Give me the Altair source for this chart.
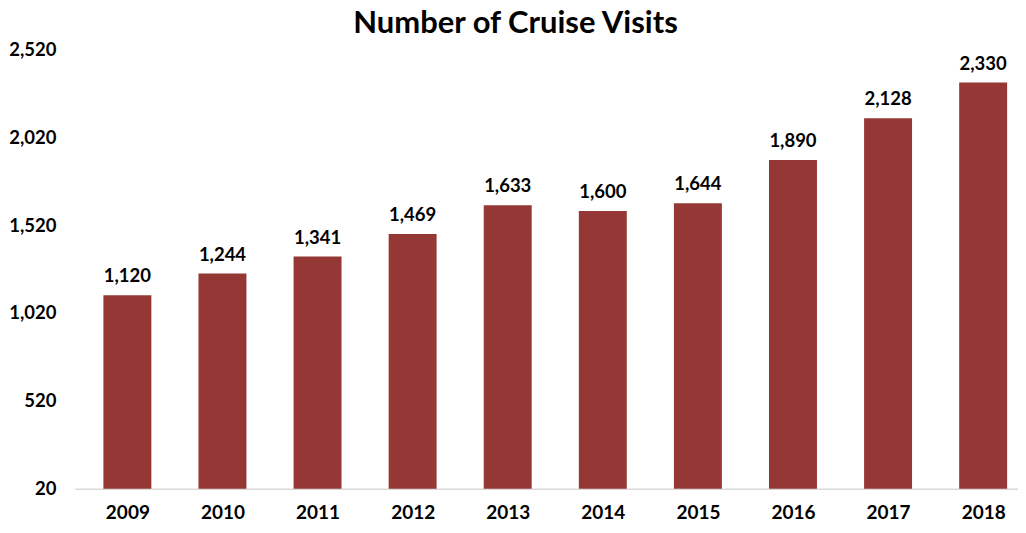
import altair as alt
import pandas as pd

years = [2009, 2010, 2011, 2012, 2013, 2014, 2015, 2016, 2017, 2018]
visits = [1120, 1244, 1341, 1469, 1633, 1600, 1644, 1890, 2128, 2330]
y_ticks = [20, 520, 1020, 1520, 2020, 2520]

df = pd.DataFrame({"year": years, "visits": visits})

FONT = "Lato"
W = 944
H = 440
STEP = 96.2
x_lo = 2009 - 48 / STEP
x_scale = alt.Scale(domain=[x_lo, x_lo + W / STEP], nice=False, zero=False)
y_scale = alt.Scale(domain=[20, 2520], nice=False, zero=False)

base = alt.Chart(df)

bars = base.mark_bar(color="#953735", size=48).encode(
    x=alt.X("year:Q", scale=x_scale,
            axis=alt.Axis(title=None, domain=True, domainColor="#d9d9d9", domainWidth=1.5,
                          ticks=False, grid=False, values=years, format="d",
                          labelFlush=False, labelAngle=0,
                          labelFont=FONT, labelFontSize=19, labelFontWeight="bold",
                          labelColor="#000000", labelPadding=15)),
    y=alt.Y("visits:Q", scale=y_scale,
            axis=alt.Axis(title=None, domain=False, ticks=False, grid=False,
                          values=y_ticks, format=",d", labelFont=FONT, labelFontSize=18.5,
                          labelFontWeight="bold", labelColor="#000000", labelPadding=19)),
    y2=alt.datum(20),
)

labels = base.mark_text(font=FONT, fontSize=18.5, fontWeight="bold", color="#000000",
                        baseline="alphabetic", dy=-13).encode(
    x=alt.X("year:Q", scale=x_scale),
    y=alt.Y("visits:Q", scale=y_scale),
    text=alt.Text("visits:Q", format=",d"),
)

chart = alt.layer(bars, labels).properties(
    width=W, height=H,
    padding={"left": 0, "top": 0, "right": 0, "bottom": 0},
    title=alt.Title("Number of Cruise Visits", font=FONT, fontSize=31, fontWeight="bold",
                    color="#000000", anchor="middle", dx=-31, offset=0),
).configure_view(stroke=None)

chart.save("out.html", embed_options={"renderer": "svg", "actions": False})
